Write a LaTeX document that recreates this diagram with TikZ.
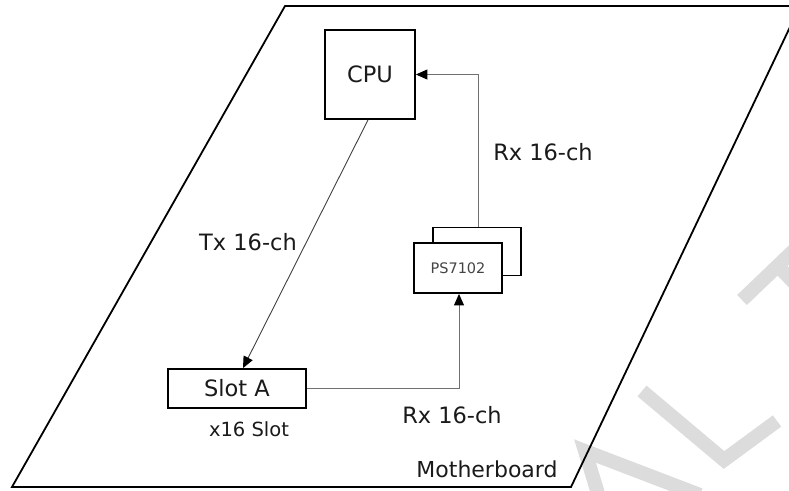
\documentclass[tikz,border=0pt]{standalone}
\usepackage{fontspec}
\setmainfont{DejaVu Sans}
\usetikzlibrary{arrows.meta}
\definecolor{txt}{HTML}{1A1A1A}
\definecolor{connc}{HTML}{707070}
\definecolor{txc}{HTML}{404040}
\definecolor{wmc}{HTML}{DCDCDC}
\definecolor{pstxt}{HTML}{444444}
\begin{document}
\begin{tikzpicture}[x=1pt,y=-1pt,
  box/.style={draw=black, line width=1.8pt, inner sep=0pt, fill=white, text=txt, font=\fontsize{22.5}{26}\selectfont},
  lbl/.style={inner sep=0pt, text=txt, font=\fontsize{22.5}{26}\selectfont},
  conn/.style={draw=connc, line width=1pt},
  arr/.style={-{Triangle[length=11.5pt,width=10pt,color=black]}},
  wm/.style={draw=wmc, line width=14pt, line cap=butt, line join=miter}]
\useasboundingbox (0,0) rectangle (789,490);
\clip (0,0) rectangle (789,490);
% watermark fragments
\draw[wm] (742,300) -- (812,233);
\draw[wm] (778,266) -- (840,330);
\draw[wm] (642,391) -- (724,460) -- (777,421);
\draw[wm] (600,500) -- (585,451) -- (700,495);
% motherboard outline
\coordinate (mtl) at (285,6);
\coordinate (mtr) at (800,6);
\coordinate (mbr) at (571,487);
\coordinate (mbl) at (12,487);
\draw[line width=1.8pt, line join=miter] (mtl) -- (mtr) -- (mbr) -- (mbl) -- cycle;
% nodes
\node[box, minimum width=90pt, minimum height=89pt] (cpu) at (370,74.5) {CPU};
\node[box, minimum width=88pt, minimum height=48pt] (psb) at (477,251.5) {};
\node[box, minimum width=88pt, minimum height=50pt, font=\fontsize{14.5}{17}\selectfont, text=pstxt] (ps) at (458,268) {PS7102};
\node[box, minimum width=138pt, minimum height=39pt] (slot) at (237,388.5) {Slot A};
% labels
\node[lbl] (tx) at (248,242) {Tx 16-ch};
\node[lbl] (rxu) at (543,152) {Rx 16-ch};
\node[lbl] (rxl) at (452,415) {Rx 16-ch};
\node[lbl, font=\fontsize{19.5}{23}\selectfont] (x16) at (249,429) {x16 Slot};
\node[lbl, font=\fontsize{22}{26}\selectfont] (mb) at (487,469) {Motherboard};
% connectors
\draw[draw=txc, line width=0.9pt, arr] ([xshift=-2pt]cpu.south) -- ([xshift=6pt]slot.north);
\draw[conn, arr] (slot.east) -| ([xshift=1pt]ps.south);
\draw[conn, arr] ([xshift=1pt]psb.north) |- (cpu.east);
\end{tikzpicture}
\end{document}
